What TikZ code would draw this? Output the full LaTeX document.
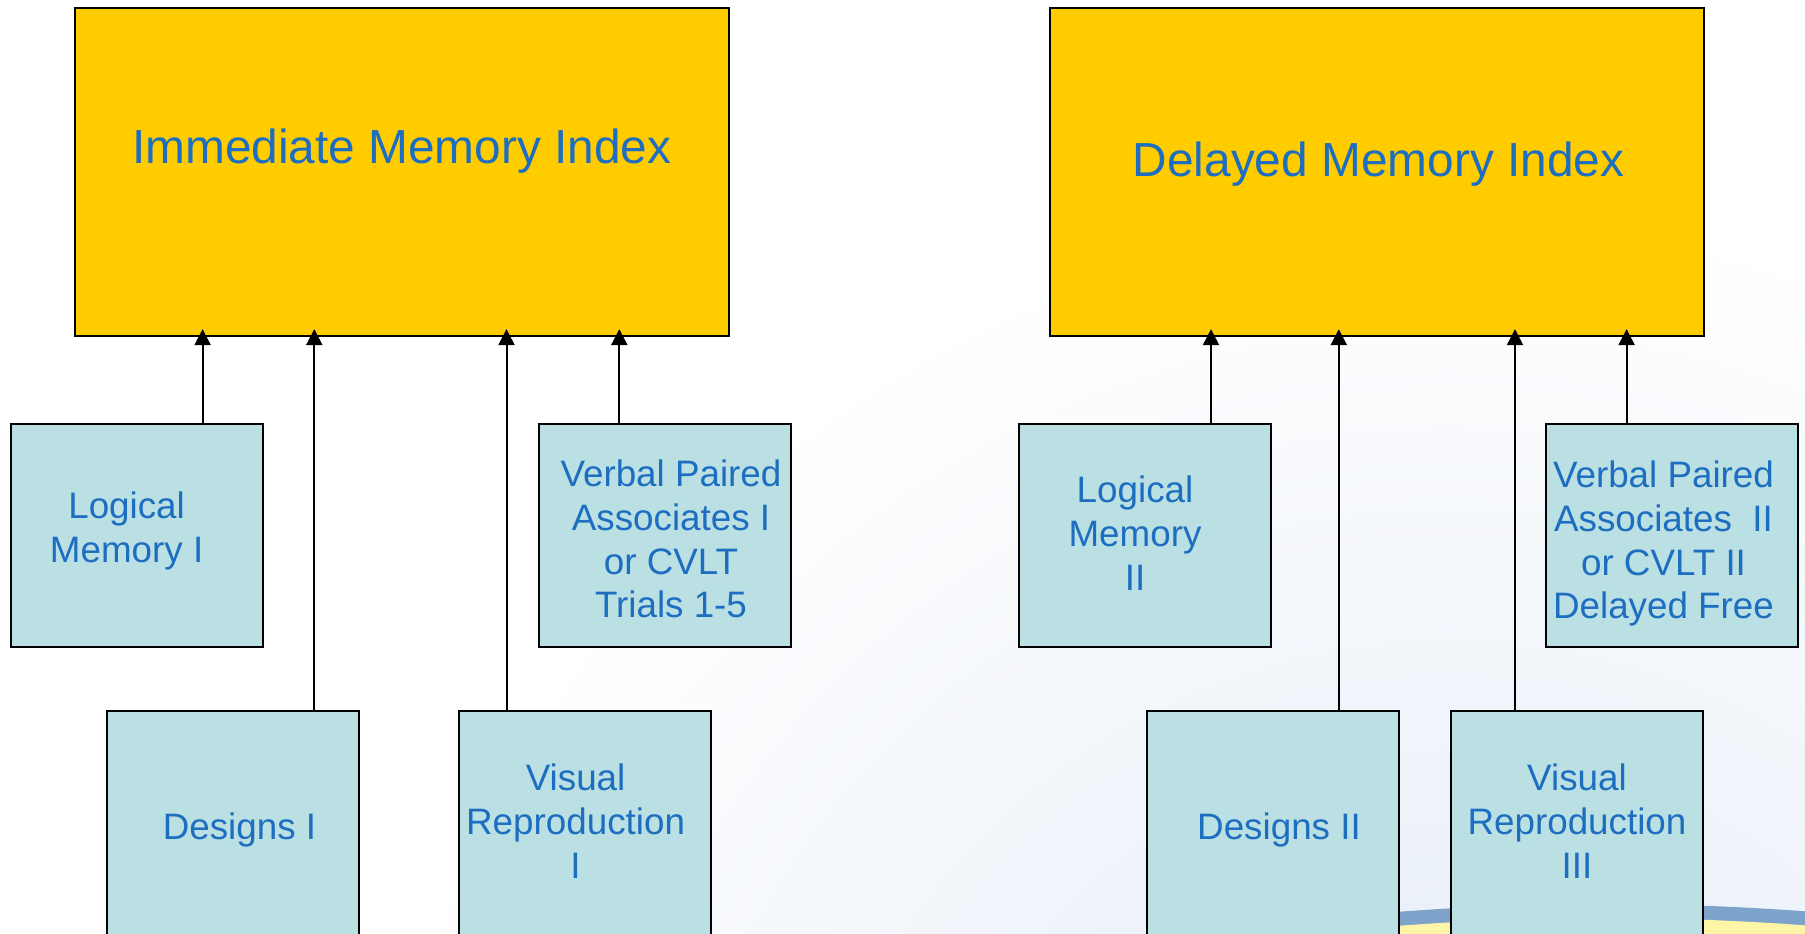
\documentclass[tikz,border=0pt]{standalone}
\usepackage{fontspec}
\setmainfont{Liberation Sans}
\usepackage{tikz}
\usepackage{xcolor}
\usetikzlibrary{arrows.meta, positioning}
\definecolor{IndexGold}{HTML}{FFCC00}
\definecolor{TestBlue}{HTML}{BBE0E3}
\definecolor{LabelBlue}{HTML}{1D6EC1}
\definecolor{ArcBlue}{HTML}{7DA3CB}
\definecolor{ArcYellow}{HTML}{FFF5A6}
\definecolor{BgBlue}{HTML}{E0E9F6}

\begin{document}
\begin{tikzpicture}[
    x=0.5pt,             % one pixel of the slide
    y=-0.5pt,            % y grows downwards
    >={Triangle[length=8pt, width=8pt]},
    indexbox/.style={draw, line width=1pt, fill=IndexGold, minimum width=327pt, minimum height=164pt, inner sep=0pt},
    testbox/.style={draw, line width=1pt, fill=TestBlue, minimum width=126pt, minimum height=111.7pt, inner sep=0pt},
    indextext/.style={text=LabelBlue, inner sep=0pt, font=\fontsize{23.9}{28}\selectfont},
    testtext/.style={text=LabelBlue, align=center, inner sep=0pt, font=\fontsize{18.4}{21.9}\selectfont},
    link/.style={->, line width=1pt, shorten >=-4pt}
]

    % --- 1. Slide Background ---
    \useasboundingbox (0,0) rectangle (1805,933);
    \clip (0,0) rectangle (1805,933);
    \fill[white] (0,0) rectangle (1805,933);
    \shade[inner color=BgBlue, outer color=white] (1450,1300) circle (1100);
    \fill[ArcBlue] (1605,3604) circle (2700);
    \fill[ArcYellow] (1605,3604) circle (2686);

    % --- 2. Index Boxes ---
    \node[indexbox] (imi) at (401.8,172.1) {};
    \node[indextext] (imitext) at (401.8,150.8) {Immediate Memory Index};
    \node[indexbox] (dmi) at (1377.4,172.1) {};
    \node[indextext] (dmitext) at (1378.5,164.6) {Delayed Memory Index};

    % --- 3. Subtest Boxes (Immediate) ---
    \node[testbox] (lm1) at (136.5,535.3) {};
    \node[testbox] (vpa1) at (664.9,535.3) {};
    \node[testbox] (des1) at (233.1,823.1) {};
    \node[testbox] (vr1) at (584.8,823.1) {};

    \node[testtext] at (126.6,530.6) {Logical\\Memory I};
    \node[testtext] at (671,539) {Verbal Paired\\Associates I\\or CVLT\\Trials 1-5};
    \node[testtext] at (239.5,830) {Designs I};
    \node[testtext] at (575.6,821) {Visual\\Reproduction\\I};

    % --- 4. Subtest Boxes (Delayed) ---
    \node[testbox] (lm2) at (1144.9,535.3) {};
    \node[testbox] (vpa2) at (1672,535.3) {};
    \node[testbox] (des2) at (1272.7,823.1) {};
    \node[testbox] (vr3) at (1576.5,823.1) {};

    \node[testtext] at (1135,533) {Logical\\Memory\\II};
    \node[testtext] at (1663.5,543.6) {Verbal Paired\\Associates\ \ II\\or CVLT II\\Delayed Free};
    \node[testtext] at (1279,830) {Designs II};
    \node[testtext] at (1577,821) {Visual\\Reproduction\\III};

    % --- 5. Arrows into the indexes ---
    \foreach \src/\dst/\xpos in {lm1/imi/202.6, des1/imi/314.3, vr1/imi/506.5, vpa1/imi/619.3,
                                 lm2/dmi/1211, des2/dmi/1338.8, vr3/dmi/1515, vpa2/dmi/1626.6} {
        \coordinate (tap) at (\xpos,0);
        \draw[link] (\src.north -| tap) -- (\dst.south -| tap);
    }

\end{tikzpicture}
\end{document}
